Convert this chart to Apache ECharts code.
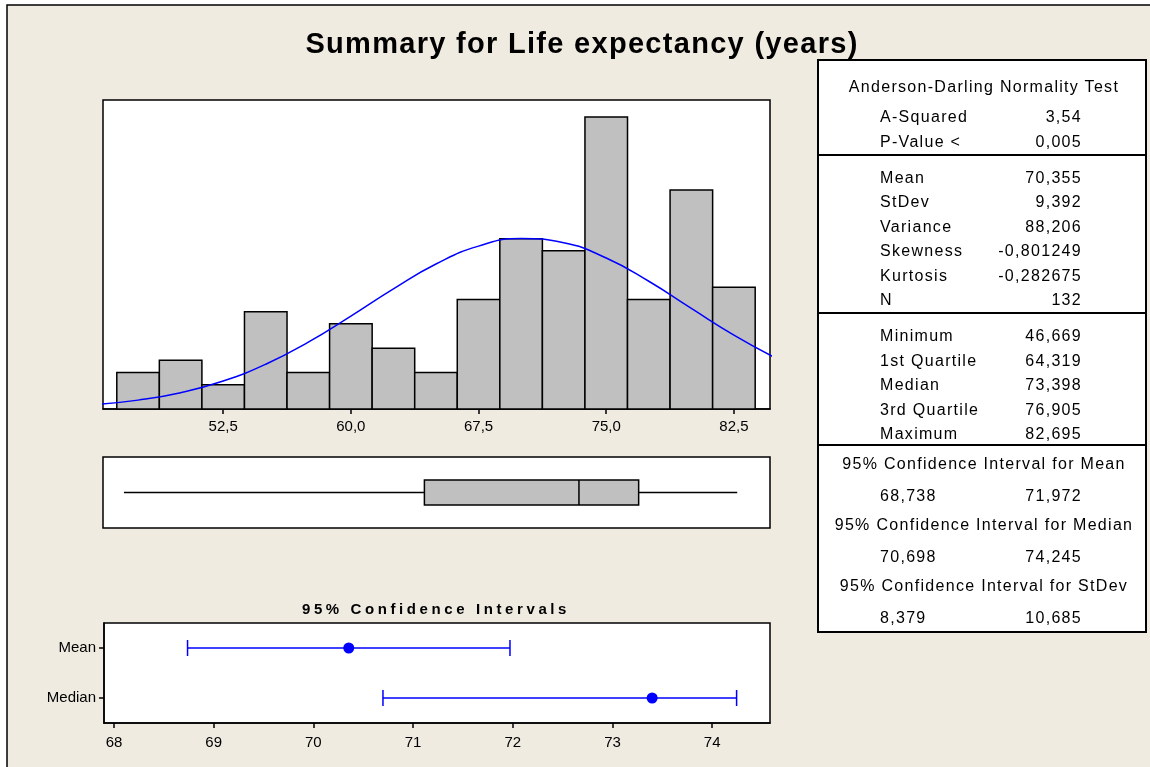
<!DOCTYPE html>
<html>
<head>
<meta charset="utf-8">
<script src="https://cdn.jsdelivr.net/npm/echarts@6/dist/echarts.min.js"></script>
<style>
  html, body { margin: 0; padding: 0; background: #fff; }
  .layer { position: absolute; left: 0; top: 0; width: 1150px; height: 767px; }
  #text { letter-spacing: 1.3px; pointer-events: none; }
  #ciTitle { position: absolute; left: 246px; top: 595px; width: 380px; height: 26px; letter-spacing: 3.6px; }
</style>
</head>
<body>
<div id="chart" class="layer"></div>
<div id="text" class="layer"></div>
<div id="ciTitle"></div>
<script>
// histogram (bin centres, width 2.5)
const binCenters = [47.5, 50, 52.5, 55, 57.5, 60, 62.5, 65, 67.5, 70, 72.5, 75, 77.5, 80, 82.5];
const binWidth = 2.5;
const counts = [3, 4, 2, 8, 3, 7, 5, 3, 9, 14, 13, 24, 9, 18, 10];
const histTicks = [52.5, 60, 67.5, 75, 82.5];

// fitted normal curve, estimated from the blue line
const curveX = [45, 47.5, 50, 52.5, 55, 57.5, 60, 62.5, 65, 67.5, 70, 72.5, 75, 77.5, 80, 82.5, 85];
const curveY = [0.37, 0.73, 1.34, 2.30, 3.68, 5.49, 7.64, 9.88, 11.92, 13.39, 14.01, 13.66, 12.41, 10.50, 8.27, 6.08, 4.16];

// boxplot: min, Q1, median, Q3, max
const boxStats = [46.669, 64.319, 73.398, 76.905, 82.695];

// 95% confidence intervals
const ciCategories = ['Median', 'Mean'];
const ciLow = [70.698, 68.738];
const ciEst = [73.398, 70.355];
const ciHigh = [74.245, 71.972];
const ciTicks = [68, 69, 70, 71, 72, 73, 74];

// summary table
const adTitle = 'Anderson-Darling Normality Test';
const adRows = [['A-Squared', '3,54'], ['P-Value <', '0,005']];
const momentRows = [['Mean', '70,355'], ['StDev', '9,392'], ['Variance', '88,206'],
  ['Skewness', '-0,801249'], ['Kurtosis', '-0,282675'], ['N', '132']];
const quantRows = [['Minimum', '46,669'], ['1st Quartile', '64,319'], ['Median', '73,398'],
  ['3rd Quartile', '76,905'], ['Maximum', '82,695']];
const ciRows = [['95% Confidence Interval for Mean', '68,738', '71,972'],
  ['95% Confidence Interval for Median', '70,698', '74,245'],
  ['95% Confidence Interval for StDev', '8,379', '10,685']];

const titleText = 'Summary for Life expectancy (years)';
const ciTitleText = '95% Confidence Intervals';

const axisFont = "'Liberation Sans', Arial, sans-serif";
const tableFont = "16px 'Liberation Sans', Arial, sans-serif";

// table graphics
function txt(x, y, s, align) {
  return { type: 'text', x: x, y: y, style: { text: s, font: tableFont, fill: '#000', textAlign: align, textVerticalAlign: 'middle' } };
}
const tbl = [];
const TL = 818, TR = 1146, LX = 880, VX = 1082, CX = 984;
tbl.push({ type: 'rect', shape: { x: TL, y: 60, width: TR - TL, height: 572 }, style: { fill: '#fff', stroke: '#000', lineWidth: 2 } });
[155, 313, 445].forEach(function (y) {
  tbl.push({ type: 'line', shape: { x1: TL, y1: y, x2: TR, y2: y }, style: { stroke: '#000', lineWidth: 2 } });
});
tbl.push(txt(CX, 86, adTitle, 'center'));
adRows.forEach(function (r, i) { tbl.push(txt(LX, 116 + i * 25, r[0], 'left')); tbl.push(txt(VX, 116 + i * 25, r[1], 'right')); });
momentRows.forEach(function (r, i) { tbl.push(txt(LX, 177.5 + i * 24.4, r[0], 'left')); tbl.push(txt(VX, 177.5 + i * 24.4, r[1], 'right')); });
quantRows.forEach(function (r, i) { tbl.push(txt(LX, 335.5 + i * 24.5, r[0], 'left')); tbl.push(txt(VX, 335.5 + i * 24.5, r[1], 'right')); });
ciRows.forEach(function (r, i) {
  tbl.push(txt(CX, 463.5 + i * 61, r[0], 'center'));
  tbl.push(txt(LX, 495.5 + i * 61, r[1], 'left'));
  tbl.push(txt(VX, 495.5 + i * 61, r[2], 'right'));
});

const tickStyle = { show: true, inside: false, length: 5, lineStyle: { color: '#000', width: 1.5 } };

const chart = echarts.init(document.getElementById('chart'));
chart.setOption({
  animation: false,
  graphic: [
    { type: 'rect', z: -100, shape: { x: 7, y: 5, width: 1160, height: 780 }, style: { fill: '#EFEBE1', stroke: '#000', lineWidth: 1.5 } }
  ],
  grid: [
    { left: 103, top: 100, width: 667, height: 309, show: true, backgroundColor: '#fff', borderColor: '#000', borderWidth: 1.5 },
    { left: 103, top: 457, width: 667, height: 71, show: true, backgroundColor: '#fff', borderColor: '#000', borderWidth: 1.5 },
    { left: 104, top: 623, width: 666, height: 100, show: true, backgroundColor: '#fff', borderColor: '#000', borderWidth: 1.5 }
  ],
  xAxis: [
    {
      gridIndex: 0, type: 'value', min: 45.44, max: 84.62, splitLine: { show: false },
      axisLine: { show: true, lineStyle: { color: '#000', width: 1.5 } },
      axisTick: Object.assign({ customValues: histTicks }, tickStyle),
      axisLabel: { customValues: histTicks, color: '#000', fontFamily: axisFont, fontSize: 15, margin: 10,
        formatter: function (v) { return Number(v).toFixed(1).replace('.', ','); } }
    },
    { gridIndex: 1, type: 'value', min: 45.44, max: 84.62, show: false },
    {
      gridIndex: 2, type: 'value', min: 67.9, max: 74.58, splitLine: { show: false },
      axisLine: { show: true, lineStyle: { color: '#000', width: 1.5 } },
      axisTick: Object.assign({ customValues: ciTicks }, tickStyle),
      axisLabel: { customValues: ciTicks, color: '#000', fontFamily: axisFont, fontSize: 15, margin: 12 }
    }
  ],
  yAxis: [
    { gridIndex: 0, type: 'value', min: 0, max: 25.4, show: false },
    { gridIndex: 1, type: 'value', min: 0, max: 1, show: false },
    {
      gridIndex: 2, type: 'category', data: ciCategories,
      axisLine: { show: true, lineStyle: { color: '#000', width: 1.5 } },
      axisTick: Object.assign({ alignWithLabel: true }, tickStyle),
      axisLabel: { color: '#000', fontFamily: axisFont, fontSize: 15, margin: 8 }
    }
  ],
  series: [
    {
      type: 'custom', xAxisIndex: 0, yAxisIndex: 0,
      data: binCenters.map(function (c, i) { return [c - binWidth / 2, c + binWidth / 2, counts[i]]; }),
      encode: { x: [0, 1], y: 2 },
      renderItem: function (params, api) {
        const p0 = api.coord([api.value(0), 0]);
        const p1 = api.coord([api.value(1), api.value(2)]);
        return { type: 'rect', shape: { x: p0[0], y: p1[1], width: p1[0] - p0[0], height: p0[1] - p1[1] },
          style: { fill: '#C0C0C0', stroke: '#000', lineWidth: 1.5 } };
      }
    },
    {
      type: 'line', xAxisIndex: 0, yAxisIndex: 0, z: 5, smooth: true, showSymbol: false,
      data: curveX.map(function (x, i) { return [x, curveY[i]]; }),
      lineStyle: { color: '#0000FF', width: 1.5 }
    },
    {
      type: 'custom', xAxisIndex: 1, yAxisIndex: 1,
      data: [boxStats.concat([0.5])],
      encode: { x: [0, 1, 2, 3, 4], y: 5 },
      renderItem: function (params, api) {
        const mid = api.value(5);
        const pMin = api.coord([api.value(0), mid]);
        const pQ1 = api.coord([api.value(1), mid]);
        const pMed = api.coord([api.value(2), mid]);
        const pQ3 = api.coord([api.value(3), mid]);
        const pMax = api.coord([api.value(4), mid]);
        const h = 12.5, y = pMin[1];
        const ls = { stroke: '#000', lineWidth: 1.5 };
        return { type: 'group', children: [
          { type: 'line', shape: { x1: pMin[0], y1: y, x2: pQ1[0], y2: y }, style: ls },
          { type: 'line', shape: { x1: pQ3[0], y1: y, x2: pMax[0], y2: y }, style: ls },
          { type: 'rect', shape: { x: pQ1[0], y: y - h, width: pQ3[0] - pQ1[0], height: 2 * h }, style: { fill: '#C0C0C0', stroke: '#000', lineWidth: 1.5 } },
          { type: 'line', shape: { x1: pMed[0], y1: y - h, x2: pMed[0], y2: y + h }, style: ls }
        ] };
      }
    },
    {
      type: 'custom', xAxisIndex: 2, yAxisIndex: 2,
      data: ciCategories.map(function (c, i) { return [ciLow[i], ciEst[i], ciHigh[i], i]; }),
      encode: { x: [0, 1, 2], y: 3 },
      renderItem: function (params, api) {
        const idx = api.value(3);
        const pL = api.coord([api.value(0), idx]);
        const pE = api.coord([api.value(1), idx]);
        const pH = api.coord([api.value(2), idx]);
        const y = pL[1], c = 8;
        const ls = { stroke: '#0000FF', lineWidth: 1.5 };
        return { type: 'group', children: [
          { type: 'line', shape: { x1: pL[0], y1: y, x2: pH[0], y2: y }, style: ls },
          { type: 'line', shape: { x1: pL[0], y1: y - c, x2: pL[0], y2: y + c }, style: ls },
          { type: 'line', shape: { x1: pH[0], y1: y - c, x2: pH[0], y2: y + c }, style: ls },
          { type: 'circle', shape: { cx: pE[0], cy: y, r: 5.5 }, style: { fill: '#0000FF' } }
        ] };
      }
    }
  ]
});

// title and summary table: svg layer so the container's letter spacing applies
const textLayer = echarts.init(document.getElementById('text'), null, { renderer: 'svg' });
textLayer.setOption({
  animation: false,
  graphic: [
    { type: 'text', x: 582, y: 43, style: { text: titleText, font: "bold 29px 'Liberation Sans', Arial, sans-serif", fill: '#000', textAlign: 'center', textVerticalAlign: 'middle' } },
    { type: 'group', children: tbl }
  ]
});

const ciTitle = echarts.init(document.getElementById('ciTitle'), null, { renderer: 'svg' });
ciTitle.setOption({
  animation: false,
  graphic: [{ type: 'text', x: 190, y: 13, style: { text: ciTitleText, font: "bold 15px 'Liberation Sans', Arial, sans-serif", fill: '#000', textAlign: 'center', textVerticalAlign: 'middle' } }]
});
</script>
</body>
</html>
